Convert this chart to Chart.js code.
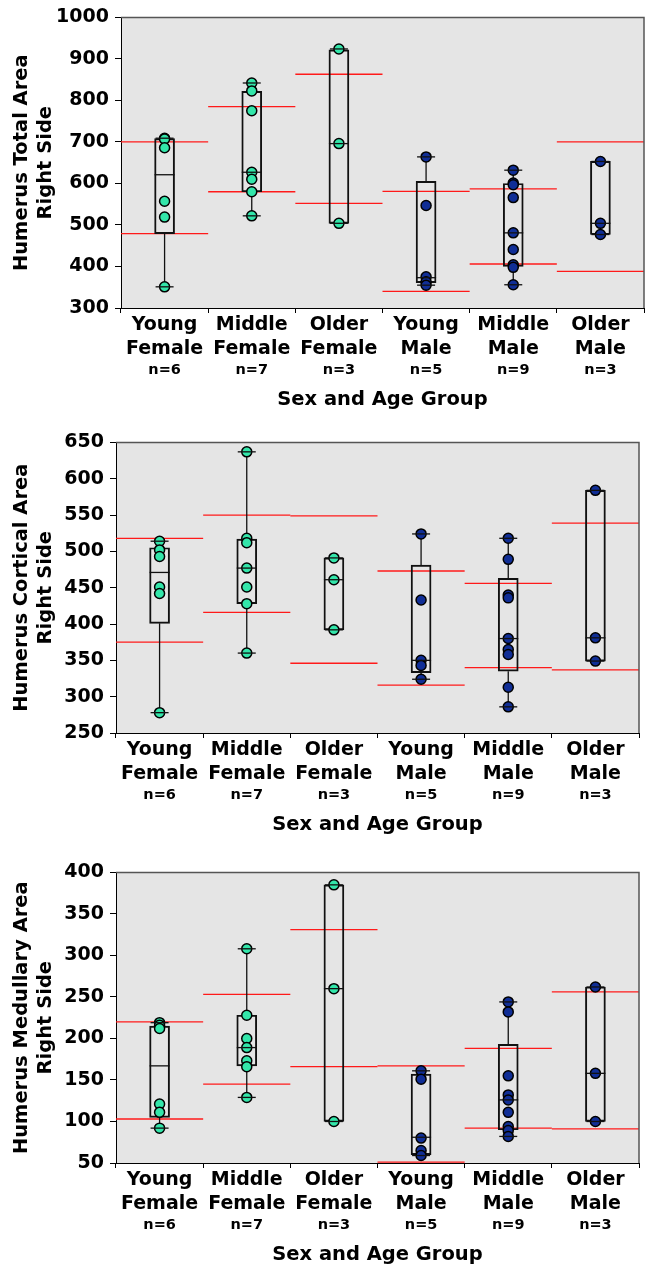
<!DOCTYPE html>
<html>
<head>
<meta charset="utf-8">
<script src="https://cdn.jsdelivr.net/npm/chart.js@4.4.1/dist/chart.umd.min.js"></script>
<style>
  html, body { margin: 0; padding: 0; background: #fff; overflow: hidden; width: 645px; height: 1268px; }
  .panel { position: absolute; left: 0; width: 645px; height: 420px; }
</style>
</head>
<body>
<div class="panel" style="top:0px"><canvas id="total"></canvas></div>
<div class="panel" style="top:425px"><canvas id="cortical"></canvas></div>
<div class="panel" style="top:855px"><canvas id="medullary"></canvas></div>

<script>
// groups along the x axis
const groups = ["Young Female", "Middle Female", "Older Female", "Young Male", "Middle Male", "Older Male"];
const groupN = ["n=6", "n=7", "n=3", "n=5", "n=9", "n=3"];
const isFemale = [true, true, true, false, false, false];

// Humerus Total Area, Right Side
const totalPoints = [
  [709, 707, 686, 557, 519, 351],
  [842, 823, 775, 627, 610, 580, 522],
  [924, 696, 504],
  [664, 547, 375, 363, 355],
  [632, 601, 597, 566, 481, 441, 404, 398, 356],
  [653, 504, 477]
];
const totalQ1 = [479, 580, 504, 361, 400, 477];
const totalMedian = [621, 627, 696, 373, 481, 504];
const totalQ3 = [708, 822, 922, 605, 600, 653];
const totalLow = [351, 522, 504, 355, 356, 477];
const totalHigh = [709, 842, 924, 664, 632, 653];
const totalRefHigh = [700, 785, 863, 581, 587, 700];
const totalRefLow = [479, 580, 552, 340, 406, 388];
const totalTicks = [300, 1000, 100];

// Humerus Cortical Area, Right Side
const corticalPoints = [
  [514, 502, 493, 451, 442, 278],
  [637, 518, 512, 477, 451, 428, 360],
  [491, 461, 392],
  [524, 433, 350, 343, 324],
  [518, 489, 440, 436, 380, 365, 358, 313, 286],
  [584, 381, 349]
];
const corticalQ1 = [401, 428, 392, 333, 335, 349];
const corticalMedian = [471, 477, 461, 350, 380, 381];
const corticalQ3 = [505, 517, 491, 481, 463, 584];
const corticalLow = [278, 360, 392, 324, 286, 349];
const corticalHigh = [514, 637, 491, 524, 518, 584];
const corticalRefHigh = [518, 550, 549, 473, 456, 539];
const corticalRefLow = [375, 416, 346, 316, 340, 337];
const corticalTicks = [250, 650, 50];

// Humerus Medullary Area, Right Side
const medullaryPoints = [
  [219, 216, 212, 121, 111, 92],
  [308, 228, 200, 189, 173, 166, 129],
  [385, 260, 100],
  [161, 151, 80, 65, 59],
  [244, 232, 155, 132, 126, 111, 94, 89, 82],
  [262, 158, 100]
];
const medullaryQ1 = [105, 167, 100, 60, 90, 100];
const medullaryMedian = [167, 189, 260, 81, 126, 158];
const medullaryQ3 = [215, 228, 385, 157, 193, 262];
const medullaryLow = [92, 129, 100, 59, 82, 100];
const medullaryHigh = [219, 308, 385, 161, 244, 262];
const medullaryRefHigh = [220, 253, 331, 167, 188, 256];
const medullaryRefLow = [103, 145, 166, 51, 92, 91];
const medullaryTicks = [50, 400, 50];

const femaleColor = "#33E6AA";
const maleColor = "#102E96";
const font = "'DejaVu Sans', sans-serif";

Chart.defaults.font.family = font;
Chart.defaults.color = "#000";

// whiskers, medians, reference lines and plot frame
function boxParts(st) {
  return {
    id: "boxParts",
    beforeDraw(chart) {
      const { ctx, chartArea: a } = chart;
      ctx.save();
      ctx.fillStyle = "#e5e5e5";
      ctx.fillRect(a.left, a.top, a.right - a.left, a.bottom - a.top);
      ctx.restore();
    },
    beforeDatasetsDraw(chart) {
      const { ctx, chartArea: a, scales: { x, y } } = chart;
      const w = x.width / groups.length;
      ctx.save();
      ctx.beginPath();
      ctx.rect(a.left, a.top, a.right - a.left, a.bottom - a.top);
      ctx.clip();
      ctx.strokeStyle = "#ff1a1a";
      ctx.lineWidth = 1.3;
      groups.forEach((g, i) => {
        const cx = x.getPixelForValue(i);
        [st.refHigh[i], st.refLow[i]].forEach(v => {
          const py = y.getPixelForValue(v);
          ctx.beginPath();
          ctx.moveTo(cx - w / 2, py);
          ctx.lineTo(cx + w / 2, py);
          ctx.stroke();
        });
      });
      ctx.strokeStyle = "#111";
      ctx.lineWidth = 1.3;
      groups.forEach((g, i) => {
        const cx = x.getPixelForValue(i);
        ctx.beginPath();
        ctx.moveTo(cx, y.getPixelForValue(st.high[i]));
        ctx.lineTo(cx, y.getPixelForValue(st.q3[i]));
        ctx.moveTo(cx, y.getPixelForValue(st.q1[i]));
        ctx.lineTo(cx, y.getPixelForValue(st.low[i]));
        ctx.stroke();
      });
      ctx.restore();
    },
    afterDatasetsDraw(chart) {
      const { ctx, chartArea: a, scales: { x, y } } = chart;
      ctx.save();
      ctx.strokeStyle = "#111";
      ctx.lineWidth = 1.3;
      groups.forEach((g, i) => {
        const cx = x.getPixelForValue(i);
        [st.high[i], st.low[i]].forEach(v => {
          const py = y.getPixelForValue(v);
          ctx.beginPath();
          ctx.moveTo(cx - 9, py);
          ctx.lineTo(cx + 9, py);
          ctx.stroke();
        });
        const pm = y.getPixelForValue(st.median[i]);
        ctx.beginPath();
        ctx.moveTo(cx - 10, pm);
        ctx.lineTo(cx + 10, pm);
        ctx.stroke();
      });
      // top and right edges of the frame
      ctx.strokeStyle = "#555";
      ctx.lineWidth = 1.5;
      ctx.beginPath();
      ctx.moveTo(a.left, a.top);
      ctx.lineTo(a.right, a.top);
      ctx.lineTo(a.right, a.bottom);
      ctx.stroke();
      ctx.restore();
    }
  };
}

// no label overflow padding on the bottom axes, the frame is placed by layout.padding
function noSidePadding(s) {
  s.paddingLeft = 0;
  s.paddingRight = 0;
}

function makeChart(id, yTitle, ticks, points, st, leftW, right) {
  const scatterSets = groups.map((g, i) => ({
    type: "scatter",
    data: points[i].map(v => ({ x: g, y: v })),
    backgroundColor: isFemale[i] ? femaleColor : maleColor,
    borderColor: "#000",
    borderWidth: 1.5,
    pointRadius: 5,
    order: 1
  }));

  new Chart(document.getElementById(id), {
    type: "bar",
    data: {
      labels: groups,
      datasets: [
        {
          type: "bar",
          data: st.q1.map((v, i) => [v, st.q3[i]]),
          backgroundColor: "rgba(0,0,0,0)",
          borderColor: "#111",
          borderWidth: 1.3,
          borderSkipped: false,
          barThickness: 20,
          order: 2
        },
        ...scatterSets
      ]
    },
    options: {
      responsive: true,
      maintainAspectRatio: false,
      animation: false,
      events: [],
      layout: { autoPadding: false, padding: { top: 14, left: 0, right: 645 - right, bottom: 0 } },
      plugins: { legend: { display: false }, tooltip: { enabled: false } },
      scales: {
        x: {
          type: "category",
          offset: true,
          weight: 0,
          grid: { offset: true, drawOnChartArea: false, tickLength: 5, color: "#000" },
          border: { color: "#000", width: 1 },
          ticks: {
            color: "#000",
            padding: 0,
            maxRotation: 0,
            autoSkip: false,
            font: { size: 19, weight: "bold", lineHeight: 1.263 },
            callback: (v, i) => groups[i].split(" ")
          },
          afterFit(s) { s.height = 52; noSidePadding(s); }
        },
        x2: {
          type: "category",
          labels: groupN,
          position: "bottom",
          offset: true,
          weight: 1,
          grid: { display: false, drawTicks: false },
          border: { display: false },
          ticks: { color: "#000", padding: 2, maxRotation: 0, autoSkip: false, font: { size: 14.5, weight: "bold" } },
          title: {
            display: true,
            text: "Sex and Age Group",
            color: "#000",
            font: { size: 19.5, weight: "bold", lineHeight: 1.23 },
            padding: { top: 0, bottom: 8 }
          },
          afterFit(s) { s.height = 60; noSidePadding(s); }
        },
        y: {
          min: ticks[0],
          max: ticks[1],
          grid: { drawOnChartArea: false, tickLength: 6, color: "#000" },
          border: { color: "#000", width: 1 },
          ticks: { stepSize: ticks[2], color: "#000", padding: 6, font: { size: 19, weight: "bold" }, callback: v => String(v) },
          title: {
            display: true,
            text: [yTitle, "Right Side"],
            color: "#000",
            font: { size: 19.5, weight: "bold", lineHeight: 1.23 },
            padding: { top: 10, bottom: 0 }
          },
          afterFit(s) { s.width = leftW; noSidePadding(s); }
        }
      }
    },
    plugins: [boxParts(st)]
  });
}

makeChart("total", "Humerus Total Area", totalTicks, totalPoints, {
  q1: totalQ1, median: totalMedian, q3: totalQ3, low: totalLow, high: totalHigh,
  refHigh: totalRefHigh, refLow: totalRefLow
}, 121, 644);

makeChart("cortical", "Humerus Cortical Area", corticalTicks, corticalPoints, {
  q1: corticalQ1, median: corticalMedian, q3: corticalQ3, low: corticalLow, high: corticalHigh,
  refHigh: corticalRefHigh, refLow: corticalRefLow
}, 116, 639);

makeChart("medullary", "Humerus Medullary Area", medullaryTicks, medullaryPoints, {
  q1: medullaryQ1, median: medullaryMedian, q3: medullaryQ3, low: medullaryLow, high: medullaryHigh,
  refHigh: medullaryRefHigh, refLow: medullaryRefLow
}, 116, 639);
</script>
</body>
</html>
